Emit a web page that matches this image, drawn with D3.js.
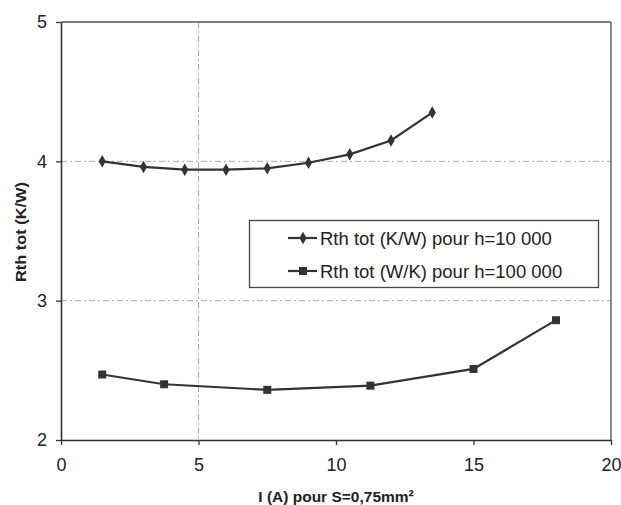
<!DOCTYPE html>
<html><head><meta charset="utf-8">
<script src="https://cdn.jsdelivr.net/npm/d3@7/dist/d3.min.js"></script>
<style>body{margin:0;background:#fff}svg{display:block;font-family:"Liberation Sans",Arial,sans-serif}</style>
</head><body><svg id="c" width="621" height="505"></svg>
<script>
const xDiamond = [1.5, 3, 4.5, 6, 7.5, 9, 10.5, 12, 13.5];
const yDiamond = [4.00, 3.96, 3.94, 3.94, 3.95, 3.99, 4.05, 4.15, 4.35];
const xSquare = [1.5, 3.75, 7.5, 11.25, 15, 18];
const ySquare = [2.47, 2.40, 2.36, 2.39, 2.51, 2.86];
const xTicks = [0, 5, 10, 15, 20];
const yTicks = [2, 3, 4, 5];
const seriesNames = ["Rth tot (K/W) pour h=10 000", "Rth tot (W/K) pour h=100 000"];
const xTitle = "I (A) pour S=0,75mm²";
const yTitle = "Rth tot (K/W)";

const svg = d3.select("#c");
const L = 61, R = 611, T = 22, B = 440;
const x = d3.scaleLinear().domain([0, 20]).range([L, R]);
const y = d3.scaleLinear().domain([2, 5]).range([B, T]);
const ink = "#333";

// gridlines
const grid = svg.append("g").attr("stroke", "#aaa").attr("stroke-width", 1).attr("stroke-dasharray", "6,3,2,3");
grid.selectAll(".h").data([3, 4]).join("line")
  .attr("x1", L).attr("x2", R).attr("y1", d => y(d)).attr("y2", d => y(d));
grid.selectAll(".v").data([5]).join("line")
  .attr("y1", T).attr("y2", B).attr("x1", d => x(d)).attr("x2", d => x(d));

// frame top/right
svg.append("line").attr("x1", L).attr("x2", R).attr("y1", T).attr("y2", T).attr("stroke", "#555").attr("stroke-width", 1.5);
svg.append("line").attr("x1", R).attr("x2", R).attr("y1", T).attr("y2", B).attr("stroke", "#666").attr("stroke-width", 1.5);

// axes
const xAxis = svg.append("g").attr("transform", `translate(0,${B})`)
  .call(d3.axisBottom(x).tickValues(xTicks).tickFormat(d3.format("d")).tickSize(5).tickSizeOuter(0).tickPadding(13));
const yAxis = svg.append("g").attr("transform", `translate(${L},0)`)
  .call(d3.axisLeft(y).tickValues(yTicks).tickFormat(d3.format("d")).tickSize(5).tickSizeOuter(0).tickPadding(9));
[xAxis, yAxis].forEach(a => {
  a.select(".domain").attr("stroke", ink).attr("stroke-width", 1.6);
  a.selectAll(".tick line").attr("stroke", ink).attr("stroke-width", 1.3);
  a.selectAll(".tick text").attr("fill", "#222").attr("font-size", 18).attr("font-family", "Liberation Sans, Arial, sans-serif");
});

// titles
svg.append("text").attr("x", 336).attr("y", 502).attr("text-anchor", "middle")
  .attr("font-size", 15.5).attr("font-weight", "bold").attr("fill", "#222").text(xTitle);
svg.append("text").attr("transform", "translate(26,232) rotate(-90)").attr("text-anchor", "middle")
  .attr("font-size", 14).attr("font-weight", "bold").attr("fill", "#222")
  .attr("textLength", 100).attr("lengthAdjust", "spacingAndGlyphs").text(yTitle);

// lines
const line = d3.line().x(d => x(d[0])).y(d => y(d[1]));
const d1 = xDiamond.map((v, i) => [v, yDiamond[i]]);
const d2 = xSquare.map((v, i) => [v, ySquare[i]]);
svg.append("path").datum(d1).attr("d", line).attr("fill", "none").attr("stroke", ink).attr("stroke-width", 2.2);
svg.append("path").datum(d2).attr("d", line).attr("fill", "none").attr("stroke", ink).attr("stroke-width", 2.2);
const diamond = d3.symbol().type(d3.symbolDiamond).size(45);
const square = d3.symbol().type(d3.symbolSquare).size(64);
svg.append("g").selectAll("path").data(d1).join("path")
  .attr("transform", d => `translate(${x(d[0])},${y(d[1])})`).attr("d", diamond).attr("fill", ink);
svg.append("g").selectAll("path").data(d2).join("path")
  .attr("transform", d => `translate(${x(d[0])},${y(d[1])})`).attr("d", square).attr("fill", ink);

// legend
const lg = svg.append("g");
lg.append("rect").attr("x", 249.5).attr("y", 220.5).attr("width", 349).attr("height", 67)
  .attr("fill", "#fff").attr("stroke", "#444").attr("stroke-width", 1.3);
const rows = [{n: seriesNames[0], s: diamond, yy: 238}, {n: seriesNames[1], s: square, yy: 271}];
rows.forEach(r => {
  lg.append("line").attr("x1", 288).attr("x2", 317).attr("y1", r.yy).attr("y2", r.yy).attr("stroke", ink).attr("stroke-width", 2.2);
  lg.append("path").attr("transform", `translate(303,${r.yy})`).attr("d", r.s).attr("fill", ink);
  lg.append("text").attr("x", 320).attr("y", r.yy + 6.5).attr("font-size", 18.5).attr("fill", "#222").text(r.n);
});
</script></body></html>
